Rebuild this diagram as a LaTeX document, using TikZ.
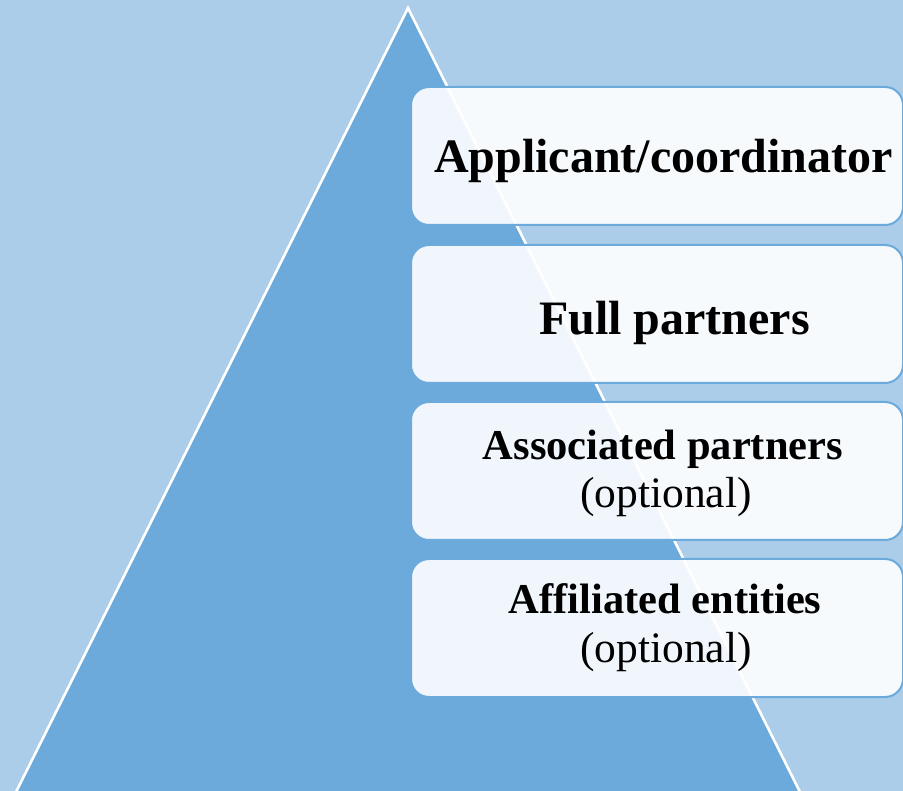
\documentclass[tikz,border=0pt]{standalone}
\usepackage{fontspec}
\setmainfont{Liberation Serif}
\definecolor{bgblue}{RGB}{171,205,234}
\definecolor{triblue}{RGB}{108,170,220}
\definecolor{edgeblue}{RGB}{108,170,220}
\tikzset{
  tier/.style={draw=edgeblue, line width=2pt, fill=white, fill opacity=0.9,
    rounded corners=18pt, anchor=north west, inner sep=0pt,
    minimum width=492pt, minimum height=138pt},
  big/.style={anchor=base, inner sep=0pt, font=\fontsize{48}{48}\selectfont\bfseries},
  mid/.style={anchor=base, inner sep=0pt, font=\fontsize{42.5}{42.5}\selectfont\bfseries},
  opt/.style={anchor=base, inner sep=0pt, font=\fontsize{43.5}{43.5}\selectfont}
}
\begin{document}
\begin{tikzpicture}[x=1pt,y=-1pt]
\useasboundingbox (0,0) rectangle (903,791);
\fill[bgblue] (0,0) rectangle (903,791);
\begin{scope}
\clip (0,0) rectangle (903,791);
\draw[white, line width=2.5pt, fill=triblue, line join=miter]
  (408,8) -- (14,796) -- (802,796) -- cycle;
\end{scope}
\node[tier] (b1) at (410,86) {};
\node[tier] (b2) at (410,244) {};
\node[tier] (b3) at (410,401) {};
\node[tier] (b4) at (410,558) {};
\node[big] (t1) at (663.5,173) {Applicant/coordinator};
\node[big] (t2) at (674.5,335) {Full partners};
\node[mid] (t3) at (663,460) {Associated partners};
\node[opt] (t3b) at (666,508) {(optional)};
\node[mid] (t4) at (665,613) {Affiliated entities};
\node[opt] (t4b) at (666,662) {(optional)};
\end{tikzpicture}
\end{document}
